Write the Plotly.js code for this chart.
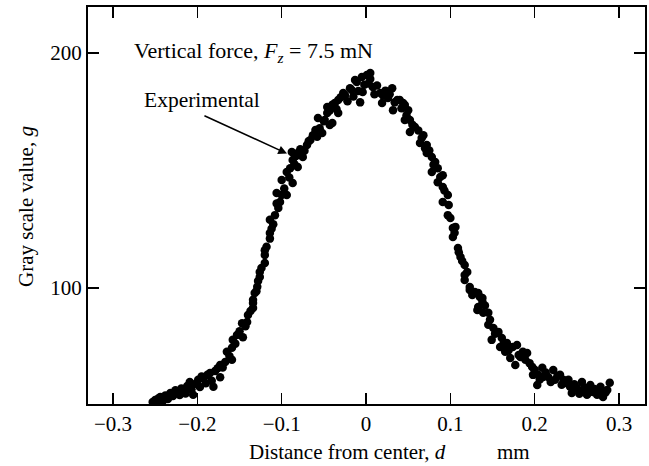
<!DOCTYPE html>
<html>
<head>
<meta charset="utf-8">
<script src="https://cdn.plot.ly/plotly-3.0.1.min.js"></script>
<style>html,body{margin:0;padding:0;background:#fff;}#chart{width:649px;height:466px;}</style>
</head>
<body>
<div id="chart"></div>
<script>
// Distance from center d (mm)
var distance = [
-0.253,-0.250,-0.248,-0.246,-0.244,-0.241,-0.238,-0.235,-0.232,-0.229,
-0.226,-0.224,-0.221,-0.219,-0.217,-0.214,-0.212,-0.209,-0.207,-0.205,
-0.202,-0.199,-0.197,-0.195,-0.193,-0.190,-0.188,-0.185,-0.183,-0.181,
-0.179,-0.176,-0.173,-0.173,-0.170,-0.167,-0.165,-0.162,-0.159,-0.159,
-0.158,-0.155,-0.153,-0.150,-0.147,-0.146,-0.143,-0.141,-0.140,-0.137,
-0.134,-0.134,-0.134,-0.132,-0.130,-0.129,-0.128,-0.126,-0.126,-0.124,
-0.120,-0.120,-0.120,-0.118,-0.114,-0.114,-0.112,-0.114,-0.110,-0.108,
-0.106,-0.106,-0.104,-0.102,-0.100,-0.100,-0.097,-0.094,-0.094,-0.091,
-0.090,-0.088,-0.087,-0.087,-0.085,-0.083,-0.081,-0.081,-0.078,-0.075,
-0.073,-0.070,-0.068,-0.066,-0.063,-0.060,-0.058,-0.057,-0.055,-0.052,
-0.050,-0.049,-0.046,-0.046,-0.043,-0.043,-0.040,-0.040,-0.037,-0.035,
-0.033,-0.033,-0.030,-0.027,-0.025,-0.022,-0.019,-0.017,-0.015,-0.013,
-0.011,-0.009,-0.007,-0.005,-0.004,-0.002,0.001,0.003,0.005,0.005,
0.008,0.010,0.013,0.017,0.019,0.020,0.023,0.026,0.028,0.031,
0.032,0.034,0.037,0.040,0.042,0.044,0.046,0.046,0.048,0.050,
0.052,0.052,0.055,0.058,0.062,0.064,0.066,0.068,0.070,0.072,
0.072,0.075,0.078,0.078,0.080,0.082,0.085,0.085,0.088,0.091,
0.091,0.093,0.097,0.091,0.098,0.097,0.100,0.103,0.103,0.105,
0.106,0.109,0.110,0.112,0.114,0.117,0.117,0.117,0.120,0.123,
0.123,0.126,0.129,0.132,0.133,0.133,0.135,0.138,0.138,0.139,
0.141,0.145,0.145,0.147,0.149,0.151,0.153,0.157,0.159,0.161,
0.163,0.165,0.167,0.169,0.171,0.174,0.177,0.179,0.181,0.183,
0.186,0.189,0.191,0.194,0.197,0.198,0.200,0.203,0.204,0.206,
0.209,0.210,0.213,0.216,0.219,0.222,0.224,0.227,0.230,0.232,
0.234,0.237,0.240,0.242,0.244,0.247,0.250,0.253,0.256,0.257,
0.260,0.262,0.264,0.266,0.269,0.271,0.274,0.276,0.278,0.281,
0.284,0.286,0.289
];
// Gray scale value g
var grayValue = [
51.5,52.3,50.8,53.0,53.6,51.9,54.2,52.7,55.3,54.0,
56.5,55.7,54.4,57.2,56.6,55.1,58.3,60.0,56.9,54.5,
59.2,60.9,57.8,62.3,61.7,59.4,63.0,63.8,60.5,57.9,
64.6,65.8,62.0,67.2,66.1,68.5,72.8,71.0,69.4,74.5,
77.9,76.3,80.0,81.6,85.0,79.0,83.7,85.5,88.5,90.2,
91.5,93.6,95.0,97.9,98.6,100.5,103.0,104.7,106.8,108.5,
110.6,114.0,116.0,117.5,121.0,123.4,125.2,129.0,127.1,131.0,
136.0,140.4,134.0,136.6,139.6,146.0,142.3,139.6,149.4,147.0,
151.0,157.9,144.7,154.5,152.8,156.2,151.5,157.4,159.0,155.7,
158.4,160.9,162.5,163.0,165.0,167.2,164.4,172.3,168.0,166.0,
171.0,171.5,174.5,177.0,169.4,175.5,170.2,178.0,178.7,176.2,
174.5,180.0,181.2,183.0,182.0,179.5,185.0,184.3,181.5,188.5,
187.7,183.8,179.0,189.8,183.4,186.5,190.6,187.0,191.5,189.0,
185.5,182.5,186.2,183.0,178.7,182.0,184.0,180.9,182.5,185.0,
175.7,179.0,180.0,180.0,176.5,178.7,171.5,177.9,173.5,175.7,
171.5,166.4,169.5,168.5,167.0,161.7,163.8,165.0,159.5,160.9,
157.4,158.5,155.7,149.4,152.5,153.6,151.0,145.0,147.2,148.0,
143.0,141.5,139.6,136.6,135.3,131.0,129.8,125.5,121.7,123.5,
126.0,117.0,115.2,113.2,111.5,109.8,105.5,103.4,106.8,100.4,
99.1,97.0,98.3,90.6,91.9,97.9,96.2,94.0,95.7,89.4,
92.5,89.4,84.3,86.5,77.9,83.0,80.5,81.3,74.9,78.7,
76.0,72.8,76.6,73.5,70.2,74.9,67.2,75.7,71.5,70.6,
72.8,69.4,72.3,68.0,66.4,63.0,65.2,58.7,63.0,61.0,
66.0,62.1,64.0,62.1,60.0,65.1,60.9,62.5,63.0,58.8,
60.9,59.5,60.9,57.9,55.3,59.0,57.4,55.0,60.0,56.6,
57.5,54.5,56.0,58.7,55.7,57.0,54.5,56.0,57.9,53.6,
55.5,56.6,59.6
];

var xTickVals = [-0.3,-0.2,-0.1,0,0.1,0.2,0.3];
var xTickText = ["\u22120.3","\u22120.2","\u22120.1","0","0.1","0.2","0.3"];
var yTickVals = [100,200];
var yTickText = ["100","200"];

var serif = "Liberation Serif, Times New Roman, serif";

var trace = {
  x: distance, y: grayValue, type: "scatter", mode: "markers",
  marker: {color: "#000", size: 8.5, line: {width: 0}},
  hoverinfo: "skip", showlegend: false
};

var axisCommon = {
  showgrid: false, zeroline: false, showline: true, linecolor: "#000", linewidth: 2,
  mirror: "allticks", ticks: "inside", ticklen: 11, tickwidth: 1.5, tickcolor: "#000",
  tickfont: {family: serif, size: 21, color: "#000"}, tickmode: "array"
};

var layout = {
  width: 649, height: 466,
  margin: {l: 88, r: 4, t: 7, b: 62},
  paper_bgcolor: "#fff", plot_bgcolor: "#fff",
  font: {family: serif, size: 21, color: "#000"},
  xaxis: Object.assign({}, axisCommon, {range: [-0.3297, 0.3308], tickvals: xTickVals, ticktext: xTickText}),
  yaxis: Object.assign({}, axisCommon, {range: [50.6, 219.6], tickvals: yTickVals, ticktext: yTickText}),
  annotations: [
    {xref: "x", yref: "y", x: -0.277, y: 200.3, xanchor: "left", yanchor: "middle", showarrow: false,
     text: "Vertical force, <i>F</i><sub><i>z</i></sub> = 7.5 mN", font: {family: serif, size: 22, color: "#000"}},
    {xref: "x", yref: "y", x: -0.2657, y: 180, xanchor: "left", yanchor: "middle", showarrow: false,
     text: "Experimental", font: {family: serif, size: 21.5, color: "#000"}},
    {xref: "x", yref: "y", x: -0.0937, y: 157.2, axref: "x", ayref: "y", ax: -0.1934, ay: 173.6,
     text: "", showarrow: true, arrowhead: 2, arrowsize: 1.1, arrowwidth: 1.6, arrowcolor: "#000", standoff: 0},
    {xref: "paper", yref: "paper", x: (247-88)/557, y: (404-452)/397, xanchor: "left", yanchor: "middle", showarrow: false,
     text: "Distance from center, <i>d</i>", font: {family: serif, size: 21, color: "#000"}},
    {xref: "paper", yref: "paper", x: (495-88)/557, y: (404-452)/397, xanchor: "left", yanchor: "middle", showarrow: false,
     text: "mm", font: {family: serif, size: 21, color: "#000"}},
    {xref: "paper", yref: "paper", x: (26-88)/557, y: (404-207)/397, xanchor: "center", yanchor: "middle", showarrow: false,
     textangle: -90, text: "Gray scale value, <i>g</i>", font: {family: serif, size: 21, color: "#000"}}
  ]
};

Plotly.newPlot("chart", [trace], layout, {displayModeBar: false, staticPlot: true});
</script>
</body>
</html>
